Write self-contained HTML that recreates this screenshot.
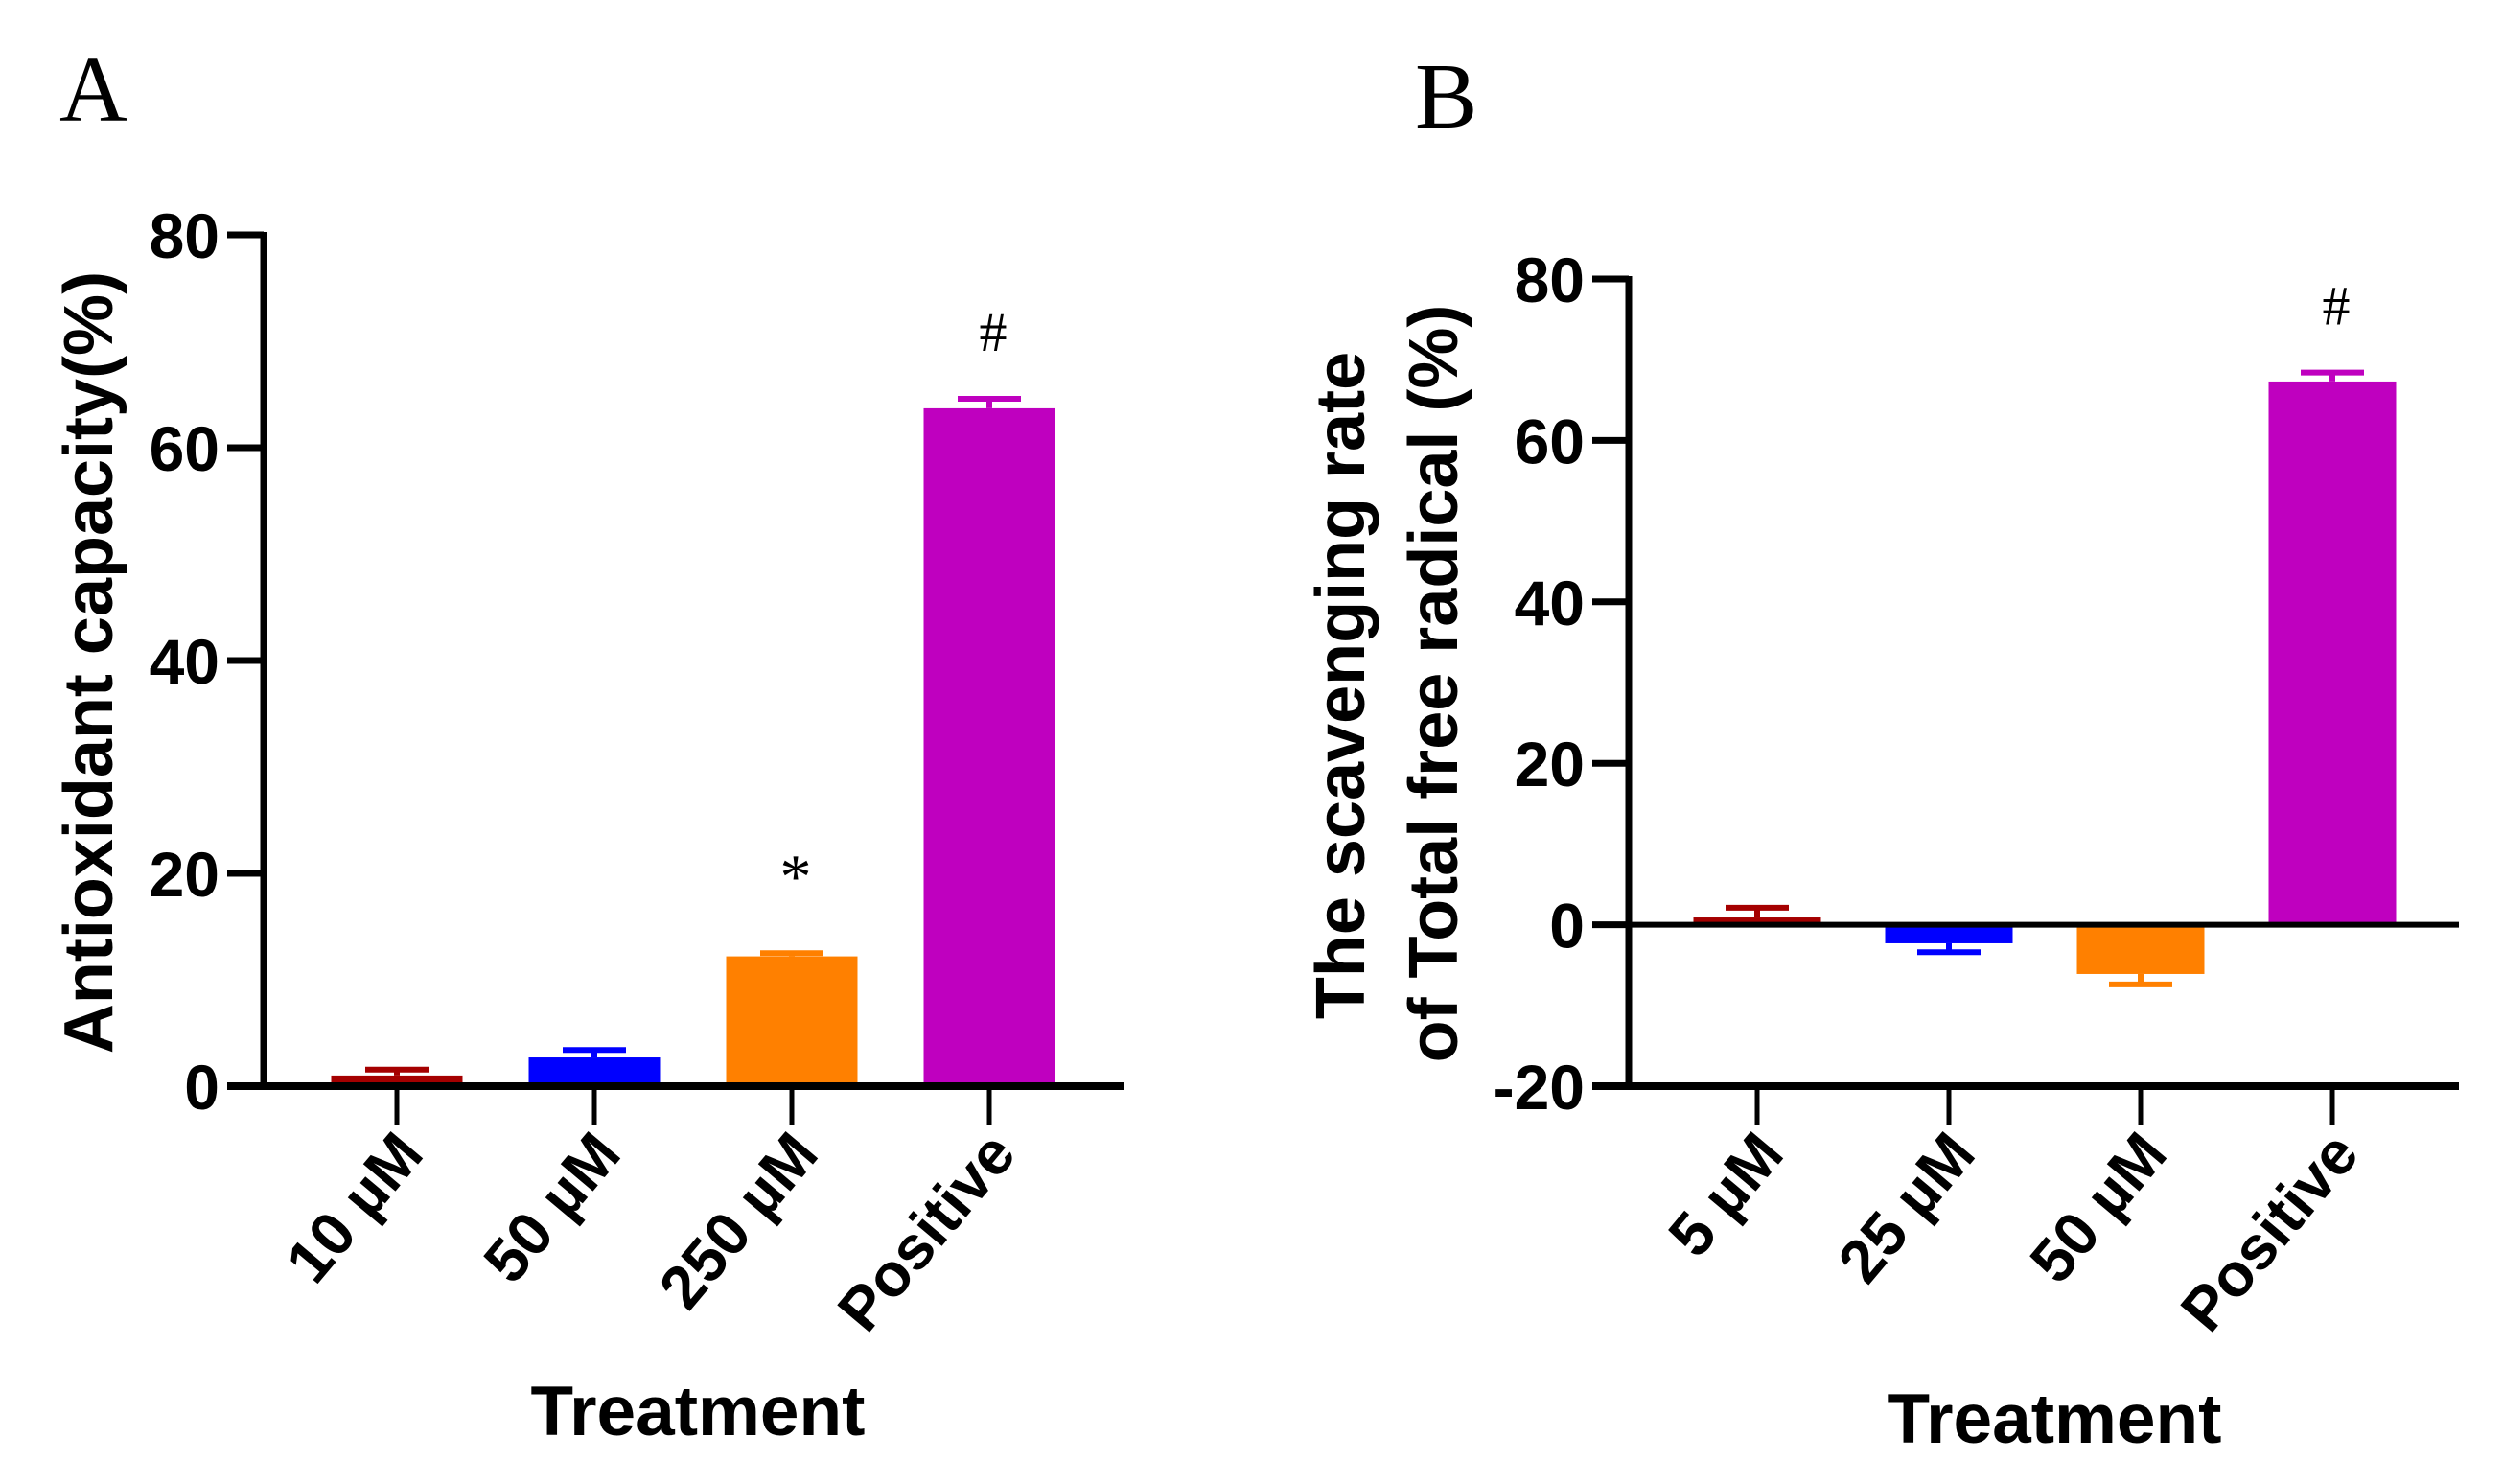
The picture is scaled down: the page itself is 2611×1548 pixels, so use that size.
<!DOCTYPE html>
<html><head><meta charset="utf-8"><style>
body{margin:0;background:#fff}
svg{display:block}
text{font-family:"Liberation Sans",Arial,sans-serif}
</style></head><body>
<svg id="fig" width="2611" height="1548" viewBox="0 0 2611 1548" xmlns="http://www.w3.org/2000/svg">
<text x="62" y="126" style="font-family:'Liberation Serif',serif" font-size="98">A</text>
<text x="1476" y="133" style="font-family:'Liberation Serif',serif" font-size="98">B</text>
<g id="chartA"></g>
<g id="chartB"></g>
</svg>
<script>
const catsA = ["10 µM","50 µM","250 µM","Positive"];
const valsA = [1.0, 2.7, 12.2, 63.7];
const errA = [0.55, 0.7, 0.3, 0.9];
const marksA = ["", "", "*", "#"];
const ticksA = [0, 20, 40, 60, 80];

const catsB = ["5 µM","25 µM","50 µM","Positive"];
const valsB = [0.9, -2.3, -6.1, 67.3];
const errB = [1.2, 1.1, 1.3, 1.1];
const marksB = ["", "", "", "#"];
const ticksB = [-20, 0, 20, 40, 60, 80];

const colors = ["#a50000","#0000ff","#ff8000","#bf00bf"];
const NS = "http://www.w3.org/2000/svg";
function mk(parent, tag, attrs, txt){
  const e = document.createElementNS(NS, tag);
  for (const k in attrs) e.setAttribute(k, attrs[k]);
  if (txt !== undefined) e.textContent = txt;
  parent.appendChild(e); return e;
}
function draw(g, cfg, cats, vals, errs, marks, ticks){
  const y = v => cfg.y0 - (v - cfg.vmin) / (cfg.vmax - cfg.vmin) * (cfg.y0 - cfg.yTop);
  const x = i => cfg.c0 + i * cfg.step;
  const zeroY = y(0);
  cats.forEach((c, i) => {
    const v = vals[i], e = errs[i], cx = x(i);
    const top = Math.min(y(v), zeroY), h = Math.abs(y(v) - zeroY);
    const bar = mk(g, "rect", {x: cx - cfg.bw/2, y: top, width: cfg.bw, height: Math.max(h,1), fill: colors[i]});
    
    
    const ev = v >= 0 ? v + e : v - e;
    const eb = mk(g, "path", {d: `M${cx},${y(v)}V${y(ev)}M${cx-33},${y(ev)}H${cx+33}`, stroke: colors[i], "stroke-width": 6, fill: "none"});
    
    
    if (marks[i]) {
      const m = mk(g, "text", {x: cx + 4, y: y(ev) - (marks[i] === "*" ? 58 : 50), "text-anchor": "middle", style: "font-family:'Liberation Serif',serif", "font-size": marks[i] === "*" ? 66 : 58}, marks[i]);
      
      
    }
    const tk = mk(g, "line", {x1: cx, x2: cx, y1: cfg.y0, y2: cfg.y0 + 40, stroke: "#000", "stroke-width": 5});
    
    
    const lb = mk(g, "text", {x: 0, y: 0, "text-anchor": "end", "font-size": 64, "font-weight": "bold", transform: `translate(${cx+30},${cfg.y0+72}) rotate(-50)`}, c);
    
    
  });
  ticks.forEach(t => {
    const ty = y(t);
    const tl = mk(g, "line", {x1: cfg.ax - 38, x2: cfg.ax, y1: ty, y2: ty, stroke: "#000", "stroke-width": 7});
    
    
    const tt = mk(g, "text", {x: cfg.ax - 46, y: ty + 24, "text-anchor": "end", "font-size": 66, "font-weight": "bold"}, String(t));
    
    
  });
  const ya = mk(g, "line", {x1: cfg.ax, x2: cfg.ax, y1: y(cfg.vmax) - 3, y2: cfg.y0 + 4, stroke: "#000", "stroke-width": 7});
  
  
  const xa = mk(g, "line", {x1: cfg.ax - 38, x2: cfg.xr, y1: cfg.y0, y2: cfg.y0, stroke: "#000", "stroke-width": 8});
  
  
  if (cfg.vmin < 0) {
    const zl = mk(g, "line", {x1: cfg.ax, x2: cfg.xr, y1: zeroY, y2: zeroY, stroke: "#000", "stroke-width": 6});
    
    
  }
  const xt = mk(g, "text", {x: cfg.xtX, y: cfg.xtY, "text-anchor": "middle", "font-size": 73, "font-weight": "bold"}, "Treatment");
  
  
}
const gA = document.getElementById("chartA");
draw(gA, {y0:1133, yTop:245, vmin:0, vmax:80, ax:275, xr:1173, c0:414, step:206, bw:137, xtX:728, xtY:1497}, catsA, valsA, errA, marksA, ticksA);
const tA = mk(gA, "text", {x:0, y:0, "text-anchor":"middle", "font-size":72, "font-weight":"bold", transform:"translate(117,691) rotate(-90)"}, "Antioxidant capacity(%)");



const gB = document.getElementById("chartB");
draw(gB, {y0:1133, yTop:291, vmin:-20, vmax:80, ax:1699, xr:2565, c0:1833, step:200, bw:133, xtX:2143, xtY:1505}, catsB, valsB, errB, marksB, ticksB);
const tB1 = mk(gB, "text", {x:0, y:0, "text-anchor":"middle", "font-size":72, "font-weight":"bold", transform:"translate(1423,715) rotate(-90)"}, "The scavenging rate");


const tB2 = mk(gB, "text", {x:0, y:0, "text-anchor":"middle", "font-size":72, "font-weight":"bold", transform:"translate(1520,713) rotate(-90)"}, "of Total free radical (%)");


</script>
</body></html>
